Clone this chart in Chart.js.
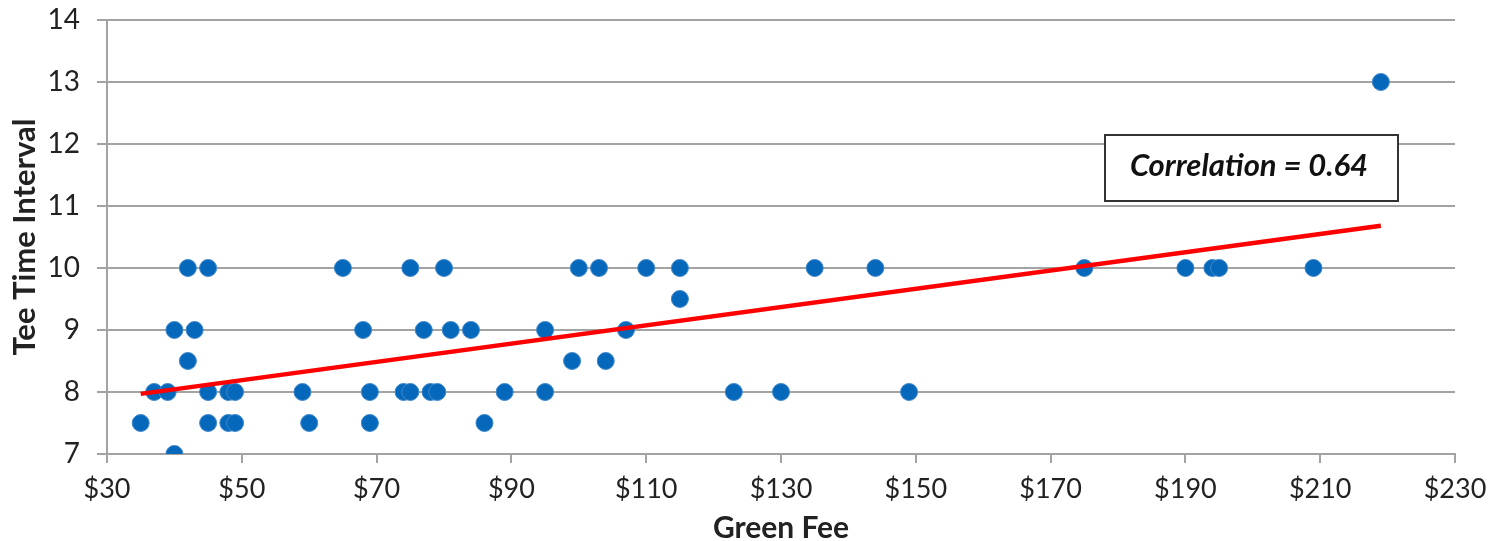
<!DOCTYPE html>
<html>
<head>
<meta charset="utf-8">
<script src="https://cdn.jsdelivr.net/npm/chart.js@4.4.1/dist/chart.umd.min.js"></script>
<style>
  html,body{margin:0;padding:0;background:#fff;}
  #wrap{width:1497px;height:541px;position:relative;}
</style>
</head>
<body>
<div id="wrap"><canvas id="c"></canvas></div>
<script>
// green fee ($) and tee time interval (minutes)
const greenFee = [
  42, 45, 65, 75, 80, 100, 103, 110, 115, 135, 144, 175, 190, 194, 195, 209,
  115,
  40, 43, 68, 77, 81, 84, 95, 107,
  42, 99, 104,
  37, 39, 45, 48, 49, 59, 69, 74, 75, 78, 79, 89, 95, 123, 130, 149,
  35, 45, 48, 49, 60, 69, 86,
  40,
  219
];
const teeInterval = [
  10, 10, 10, 10, 10, 10, 10, 10, 10, 10, 10, 10, 10, 10, 10, 10,
  9.5,
  9, 9, 9, 9, 9, 9, 9, 9,
  8.5, 8.5, 8.5,
  8, 8, 8, 8, 8, 8, 8, 8, 8, 8, 8, 8, 8, 8, 8, 8,
  7.5, 7.5, 7.5, 7.5, 7.5, 7.5, 7.5,
  7,
  13
];
// trend line end points
const trendX = [35, 219];
const trendY = [7.97, 10.68];
const xTicks = [30, 50, 70, 90, 110, 130, 150, 170, 190, 210, 230];
const yTicks = [7, 8, 9, 10, 11, 12, 13, 14];
const corrLabel = 'Correlation = 0.64';

const FONT = 'Lato, "Open Sans", sans-serif';
const GRID = '#a3a3a3';
const INK = '#222';

const points = greenFee.map((x, i) => ({ x, y: teeInterval[i] }));
const trend = trendX.map((x, i) => ({ x, y: trendY[i] }));

const corrBox = {
  id: 'corrBox',
  afterDatasetsDraw(chart){
    const ctx = chart.ctx;
    ctx.save();
    ctx.fillStyle = '#fff';
    ctx.fillRect(1105, 135, 293, 66);
    ctx.strokeStyle = '#333';
    ctx.lineWidth = 2;
    ctx.strokeRect(1105, 135, 293, 66);
    ctx.fillStyle = '#111';
    ctx.font = 'italic bold 31px ' + FONT;
    ctx.textAlign = 'center';
    ctx.textBaseline = 'middle';
    ctx.fillText(corrLabel, 1249, 166);
    ctx.restore();
  }
};

new Chart(document.getElementById('c'), {
  type: 'scatter',
  data: {
    datasets: [
      { type:'line', data: trend, borderColor:'#ff0000', borderWidth:4.5, pointRadius:0, fill:false, order:0 },
      { data: points, backgroundColor:'#0668bb', borderColor:'#3f88cc', borderWidth:1, pointRadius:8.5, pointHoverRadius:8.5, order:1 }
    ]
  },
  options: {
    responsive:true, maintainAspectRatio:false, animation:false,
    layout:{ padding:{ top:20, right:42, left:0, bottom:0 } },
    plugins:{ legend:{ display:false }, tooltip:{ enabled:false } },
    scales:{
      x:{
        type:'linear', min:30, max:230,
        afterBuildTicks(s){ s.ticks = xTicks.map(v => ({ value:v })); },
        afterFit(s){ s.height = 87; },
        ticks:{ color:INK, padding:10, font:{ family:FONT, size:27 }, callback:v => '$' + v },
        grid:{ drawOnChartArea:false, tickColor:GRID, tickLength:9, lineWidth:2 },
        border:{ color:GRID, width:2 },
        title:{ display:true, text:'Green Fee', color:INK, padding:{ top:0, bottom:-5 }, font:{ family:FONT, size:30, weight:'bold' } }
      },
      y:{
        min:7, max:14,
        afterBuildTicks(s){ s.ticks = yTicks.map(v => ({ value:v })); },
        afterFit(s){ s.width = 107; s.paddingTop = 0; s.paddingBottom = 0; },
        ticks:{ color:INK, padding:17, font:{ family:FONT, size:28 } },
        grid:{ color:GRID, tickColor:GRID, tickLength:10, lineWidth:2 },
        border:{ color:GRID, width:2 },
        title:{ display:true, text:'Tee Time Interval', color:INK, padding:{ top:6, bottom:0 }, font:{ family:FONT, size:31, weight:'bold' } }
      }
    }
  },
  plugins:[corrBox]
});
</script>
</body>
</html>
